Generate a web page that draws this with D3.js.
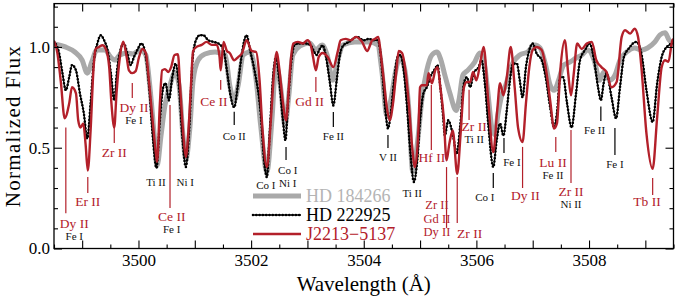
<!DOCTYPE html>
<html>
<head>
<meta charset="utf-8">
<style>
  body { margin: 0; background: #fff; }
  #chart text { font-family: "Liberation Serif", "DejaVu Serif", serif; }
</style>
</head>
<body>
<svg id="chart" width="678" height="302" font-family="Liberation Serif, DejaVu Serif, serif"></svg>
<script src="https://cdn.jsdelivr.net/npm/d3@7/dist/d3.min.js"></script>
<script>
  // HD 184266 (gray)
  var wlGray = [3498.50, 3498.70, 3498.87, 3499.00, 3499.09, 3499.17, 3499.26, 3499.41, 3499.49, 3499.58,
    3499.67, 3499.80, 3499.90, 3500.03, 3500.13, 3500.20, 3500.28, 3500.33, 3500.40, 3500.47,
    3500.56, 3500.65, 3500.72, 3500.79, 3500.84, 3500.91, 3500.97, 3501.06, 3501.18, 3501.36,
    3501.54, 3501.62, 3501.70, 3501.77, 3501.86, 3501.98, 3502.09, 3502.17, 3502.28, 3502.37,
    3502.44, 3502.53, 3502.60, 3502.67, 3502.74, 3502.87, 3503.04, 3503.15, 3503.26, 3503.35,
    3503.45, 3503.54, 3503.63, 3503.84, 3504.11, 3504.25, 3504.32, 3504.41, 3504.48, 3504.57,
    3504.64, 3504.73, 3504.80, 3504.87, 3504.96, 3505.03, 3505.12, 3505.21, 3505.30, 3505.37,
    3505.44, 3505.53, 3505.64, 3505.69, 3505.76, 3505.85, 3505.97, 3506.06, 3506.13, 3506.20,
    3506.28, 3506.33, 3506.38, 3506.45, 3506.52, 3506.63, 3506.77, 3506.91, 3507.04, 3507.13,
    3507.23, 3507.31, 3507.38, 3507.46, 3507.55, 3507.66, 3507.77, 3507.87, 3507.98, 3508.09,
    3508.19, 3508.26, 3508.37, 3508.46, 3508.55, 3508.67, 3508.81, 3508.93, 3509.04, 3509.17,
    3509.26, 3509.35, 3509.42, 3509.51];
  var fxGray = [1.015, 1.0, 0.975, 0.935, 0.87, 0.925, 0.985, 0.985, 0.955, 0.935,
    0.96, 0.97, 0.965, 0.985, 0.96, 0.81, 0.56, 0.41, 0.56, 0.71,
    0.81, 0.875, 0.81, 0.56, 0.44, 0.59, 0.835, 0.935, 0.965, 0.975,
    0.96, 0.81, 0.735, 0.81, 0.96, 0.975, 0.835, 0.61, 0.38, 0.64,
    0.91, 0.785, 0.61, 0.76, 0.96, 1.005, 1.02, 0.985, 1.01, 0.96,
    0.835, 0.935, 1.01, 1.025, 1.025, 1.01, 0.885, 0.66, 0.735, 0.885,
    0.95, 0.885, 0.69, 0.38, 0.54, 0.735, 0.885, 0.96, 0.975, 0.935,
    0.86, 0.77, 0.685, 0.735, 0.86, 0.885, 0.925, 0.97, 0.935, 0.785,
    0.59, 0.565, 0.66, 0.76, 0.81, 0.91, 0.96, 0.975, 1.01, 0.995,
    0.91, 0.81, 0.785, 0.835, 0.91, 0.925, 0.945, 0.96, 0.985, 0.935,
    0.835, 0.875, 0.835, 0.86, 0.935, 0.975, 0.995, 0.985, 0.995, 1.025,
    1.06, 1.07, 1.035, 1.01];

  // HD 222925 (black, dotted)
  var wlBlack = [3498.50, 3498.59, 3498.65, 3498.71, 3498.77, 3498.82, 3498.89, 3498.96, 3499.03, 3499.09,
    3499.15, 3499.21, 3499.27, 3499.33, 3499.39, 3499.45, 3499.51, 3499.57, 3499.62, 3499.68,
    3499.74, 3499.80, 3499.86, 3499.92, 3499.98, 3500.05, 3500.11, 3500.19, 3500.26, 3500.32,
    3500.38, 3500.44, 3500.48, 3500.54, 3500.60, 3500.66, 3500.72, 3500.78, 3500.84, 3500.90,
    3500.96, 3501.02, 3501.09, 3501.15, 3501.24, 3501.33, 3501.42, 3501.51, 3501.57, 3501.64,
    3501.70, 3501.76, 3501.82, 3501.88, 3501.92, 3501.98, 3502.06, 3502.17, 3502.23, 3502.28,
    3502.33, 3502.39, 3502.44, 3502.50, 3502.56, 3502.61, 3502.65, 3502.71, 3502.77, 3502.85,
    3502.97, 3503.06, 3503.12, 3503.16, 3503.22, 3503.27, 3503.33, 3503.40, 3503.46, 3503.52,
    3503.58, 3503.64, 3503.74, 3503.88, 3504.00, 3504.09, 3504.18, 3504.25, 3504.29, 3504.34,
    3504.39, 3504.43, 3504.48, 3504.54, 3504.60, 3504.65, 3504.71, 3504.77, 3504.83, 3504.89,
    3504.95, 3505.00, 3505.06, 3505.12, 3505.18, 3505.27, 3505.31, 3505.36, 3505.41, 3505.44,
    3505.50, 3505.59, 3505.65, 3505.71, 3505.78, 3505.83, 3505.89, 3505.95, 3506.04, 3506.09,
    3506.15, 3506.21, 3506.30, 3506.36, 3506.42, 3506.48, 3506.54, 3506.59, 3506.65, 3506.72,
    3506.77, 3506.82, 3506.88, 3506.94, 3507.00, 3507.07, 3507.16, 3507.23, 3507.31, 3507.38,
    3507.43, 3507.49, 3507.54, 3507.61, 3507.69, 3507.77, 3507.84, 3507.93, 3508.01, 3508.09,
    3508.16, 3508.21, 3508.26, 3508.31, 3508.40, 3508.48, 3508.55, 3508.62, 3508.70, 3508.84,
    3508.93, 3509.02, 3509.13, 3509.21, 3509.29, 3509.38, 3509.48, 3509.51];
  var fxBlack = [1.025, 0.97, 0.87, 0.785, 0.85, 0.91, 0.884, 0.77, 0.67, 0.545,
    0.72, 0.934, 1.017, 1.058, 1.033, 0.985, 0.87, 0.735, 0.884, 0.985,
    1.017, 0.97, 0.91, 0.95, 0.985, 1.017, 0.985, 0.80, 0.536, 0.40,
    0.636, 0.80, 0.82, 0.735, 0.85, 0.917, 0.80, 0.553, 0.404, 0.586,
    0.934, 1.033, 1.058, 1.058, 1.033, 1.025, 1.017, 0.985, 0.884, 0.75,
    0.70, 0.80, 0.934, 1.033, 1.058, 0.985, 0.884, 0.67, 0.437, 0.354,
    0.57, 0.85, 0.95, 0.835, 0.652, 0.536, 0.70, 0.917, 1.008, 1.017,
    1.017, 1.008, 0.975, 0.96, 0.99, 1.008, 0.95, 0.82, 0.71, 0.835,
    0.967, 1.008, 1.025, 1.05, 1.033, 1.04, 1.033, 1.033, 0.985, 0.835,
    0.67, 0.595, 0.67, 0.835, 0.95, 0.96, 0.884, 0.70, 0.47, 0.33,
    0.437, 0.636, 0.77, 0.80, 0.85, 0.893, 0.91, 0.80, 0.652, 0.56,
    0.636, 0.553, 0.47, 0.60, 0.82, 0.85, 0.80, 0.87, 0.90, 0.934,
    0.82, 0.62, 0.404, 0.536, 0.62, 0.56, 0.686, 0.82, 0.917, 0.917,
    0.835, 0.75, 0.90, 0.985, 1.017, 0.967, 0.934, 0.85, 0.70, 0.60,
    0.67, 0.85, 0.85, 0.72, 0.60, 0.77, 0.934, 0.985, 1.017, 0.934,
    0.80, 0.735, 0.82, 0.87, 0.75, 0.645, 0.80, 0.95, 0.99, 1.025,
    0.967, 0.785, 0.627, 0.82, 0.95, 1.0, 1.017, 1.02];

  // J2213-5137 (red)
  var wlRed = [3498.50, 3498.56, 3498.62, 3498.69, 3498.77, 3498.82, 3498.89, 3498.93, 3498.97, 3499.02,
    3499.06, 3499.10, 3499.15, 3499.20, 3499.24, 3499.30, 3499.36, 3499.42, 3499.48, 3499.52,
    3499.57, 3499.61, 3499.67, 3499.73, 3499.79, 3499.83, 3499.89, 3499.95, 3500.01, 3500.07,
    3500.13, 3500.19, 3500.25, 3500.31, 3500.33, 3500.38, 3500.42, 3500.47, 3500.53, 3500.58,
    3500.64, 3500.70, 3500.74, 3500.80, 3500.84, 3500.88, 3500.93, 3500.97, 3501.03, 3501.12,
    3501.21, 3501.30, 3501.39, 3501.44, 3501.46, 3501.51, 3501.57, 3501.62, 3501.70, 3501.77,
    3501.84, 3501.92, 3502.01, 3502.09, 3502.15, 3502.20, 3502.28, 3502.35, 3502.41, 3502.45,
    3502.51, 3502.56, 3502.62, 3502.67, 3502.71, 3502.75, 3502.83, 3502.92, 3503.00, 3503.06,
    3503.10, 3503.15, 3503.20, 3503.27, 3503.36, 3503.46, 3503.54, 3503.59, 3503.68, 3503.77,
    3503.86, 3503.97, 3504.06, 3504.15, 3504.20, 3504.26, 3504.30, 3504.35, 3504.41, 3504.46,
    3504.52, 3504.58, 3504.62, 3504.68, 3504.74, 3504.80, 3504.86, 3504.91, 3504.97, 3505.00,
    3505.03, 3505.12, 3505.15, 3505.21, 3505.27, 3505.31, 3505.36, 3505.42, 3505.47, 3505.52,
    3505.58, 3505.66, 3505.72, 3505.78, 3505.83, 3505.89, 3505.94, 3506.00, 3506.08, 3506.13,
    3506.21, 3506.30, 3506.37, 3506.42, 3506.48, 3506.54, 3506.61, 3506.68, 3506.74, 3506.82,
    3506.88, 3506.94, 3507.00, 3507.07, 3507.16, 3507.23, 3507.31, 3507.38, 3507.43, 3507.49,
    3507.57, 3507.63, 3507.68, 3507.73, 3507.79, 3507.87, 3507.96, 3508.05, 3508.13, 3508.22,
    3508.31, 3508.40, 3508.49, 3508.58, 3508.64, 3508.73, 3508.81, 3508.87, 3508.93, 3509.02,
    3509.13, 3509.21, 3509.29, 3509.35, 3509.41, 3509.48, 3509.51];
  var fxRed = [1.03, 0.97, 0.83, 0.646, 0.72, 0.80, 0.77, 0.636, 0.60, 0.62,
    0.52, 0.387, 0.586, 0.884, 0.99, 1.0, 1.008, 0.99, 0.90, 0.72,
    0.60, 0.77, 0.95, 1.026, 0.95, 0.884, 0.87, 0.88, 0.95, 0.99,
    0.97, 0.82, 0.64, 0.47, 0.43, 0.72, 0.884, 0.89, 0.876, 0.90,
    0.96, 0.964, 0.80, 0.553, 0.454, 0.553, 0.80, 0.98, 1.0, 1.01,
    1.025, 1.01, 1.01, 0.95, 0.884, 1.025, 0.98, 0.97, 0.934, 0.95,
    0.97, 1.033, 0.98, 0.975, 0.835, 0.60, 0.404, 0.636, 0.884, 0.975,
    0.87, 0.735, 0.636, 0.80, 0.95, 1.017, 1.025, 1.017, 1.033, 1.008,
    0.95, 0.884, 0.95, 0.97, 0.95, 0.90, 0.98, 1.033, 1.04, 1.033,
    1.05, 1.025, 0.98, 1.033, 1.04, 1.05, 0.97, 0.85, 0.70, 0.636,
    0.72, 0.884, 0.98, 0.97, 0.884, 0.72, 0.503, 0.404, 0.586, 0.80,
    0.81, 0.81, 0.87, 0.82, 0.884, 0.90, 0.80, 0.652, 0.437, 0.52,
    0.586, 0.37, 0.57, 0.80, 0.826, 0.826, 0.876, 0.835, 0.94, 1.0,
    0.735, 0.478, 0.686, 0.82, 0.76, 0.85, 1.0, 0.80, 0.60, 0.528,
    0.72, 0.90, 0.985, 1.0, 0.985, 0.90, 0.735, 0.595, 0.62, 0.884,
    1.033, 0.87, 0.76, 0.87, 1.017, 0.99, 1.017, 1.025, 0.934, 0.90,
    0.876, 0.80, 0.826, 1.05, 1.083, 1.066, 1.09, 1.05, 0.90, 0.57,
    0.395, 0.652, 0.90, 0.934, 0.926, 1.033, 1.04];

  var seriesNames = ["HD 184266", "HD 222925", "J2213\u22125137"];

  // line identifications: marker wavelength, marker span (flux), label anchor (wavelength, flux)
  var lineIds = [
    { lam: 3498.71, top: 0.60, bot: 0.175, tx: 3498.86, ty: 0.127, red: ["Dy II"], blk: ["Fe I"] },
    { lam: 3499.10, top: 0.355, bot: 0.275, tx: 3499.10, ty: 0.232, red: ["Er II"], blk: [] },
    { lam: 3499.57, top: 0.603, bot: 0.524, tx: 3499.57, ty: 0.475, red: ["Zr II"], blk: [] },
    { lam: 3499.89, top: 0.821, bot: 0.747, tx: 3499.92, ty: 0.702, red: ["Dy II"], blk: ["Fe I"] },
    { lam: null, tx: 3500.31, ty: 0.327, red: [], blk: ["Ti II"] },
    { lam: null, tx: 3500.83, ty: 0.327, red: [], blk: ["Ni I"] },
    { lam: 3500.56, top: 0.712, bot: 0.201, tx: 3500.59, ty: 0.161, red: ["Ce II"], blk: ["Fe I"] },
    { lam: 3501.46, top: 0.836, bot: 0.787, tx: 3501.34, ty: 0.729, red: ["Ce II"], blk: [] },
    { lam: 3501.70, top: 0.679, bot: 0.613, tx: 3501.70, ty: 0.555, red: [], blk: ["Co II"] },
    { lam: null, tx: 3502.26, ty: 0.315, red: [], blk: ["Co I"] },
    { lam: 3502.62, top: 0.504, bot: 0.439, tx: 3502.65, ty: 0.390, red: [], blk: ["Co I", "Ni I"] },
    { lam: 3503.15, top: 0.851, bot: 0.777, tx: 3503.04, ty: 0.732, red: ["Gd II"], blk: [] },
    { lam: 3503.46, top: 0.677, bot: 0.603, tx: 3503.46, ty: 0.555, red: [], blk: ["Fe II"] },
    { lam: 3504.43, top: 0.563, bot: 0.499, tx: 3504.43, ty: 0.454, red: [], blk: ["V II"] },
    { lam: null, tx: 3504.86, ty: 0.277, red: [], blk: ["Ti II"] },
    { lam: 3505.20, top: 0.811, bot: 0.489, tx: 3505.21, ty: 0.454, red: ["Hf II"], blk: [] },
    { lam: 3505.47, top: 0.404, bot: 0.102, tx: 3505.30, ty: 0.218, red: ["Zr II", "Gd II", "Dy II"], blk: [] },
    { lam: 3505.66, top: 0.355, bot: 0.127, tx: 3505.88, ty: 0.075, red: ["Zr II"], blk: [] },
    { lam: 3505.87, top: 0.787, bot: 0.638, tx: 3505.96, ty: 0.608, red: ["Zr II"], blk: ["Ti II"] },
    { lam: 3506.30, top: 0.375, bot: 0.30, tx: 3506.15, ty: 0.257, red: [], blk: ["Co I"] },
    { lam: 3506.49, top: 0.548, bot: 0.474, tx: 3506.63, ty: 0.426, red: [], blk: ["Fe I"] },
    { lam: 3506.82, top: 0.504, bot: 0.30, tx: 3506.87, ty: 0.266, red: ["Dy II"], blk: [] },
    { lam: 3507.41, top: 0.553, bot: 0.479, tx: 3507.36, ty: 0.428, red: ["Lu II"], blk: ["Fe II"] },
    { lam: 3507.68, top: 0.588, bot: 0.325, tx: 3507.68, ty: 0.285, red: ["Zr II"], blk: ["Ni II"] },
    { lam: 3508.21, top: 0.705, bot: 0.633, tx: 3508.10, ty: 0.588, red: [], blk: ["Fe II"] },
    { lam: 3508.46, top: 0.598, bot: 0.464, tx: 3508.46, ty: 0.419, red: [], blk: ["Fe I"] },
    { lam: 3509.13, top: 0.350, bot: 0.266, tx: 3509.03, ty: 0.236, red: ["Tb II"], blk: [] }
  ];

  var RED = "#b3202a", GRAY = "#a9a9a9", FONT = "Liberation Serif, DejaVu Serif, serif";
  var svg = d3.select("#chart");
  var L = 54, R = 673.5, T = 3.6, B = 248.5;
  var x = d3.scaleLinear().domain([3498.5, 3509.5]).range([L, R]);
  var y = d3.scaleLinear().domain([0, 1.215]).range([B, T]);

  svg.append("clipPath").attr("id", "clip")
    .append("rect").attr("x", L).attr("y", T).attr("width", R - L).attr("height", B - T);

  function series(wl, fx) {
    return wl.map(function(w, i) { return [w, fx[i]]; });
  }
  var line = d3.line()
    .x(function(d) { return x(d[0]); })
    .y(function(d) { return y(d[1]); })
    .curve(d3.curveMonotoneX);

  var plot = svg.append("g").attr("clip-path", "url(#clip)");
  plot.append("path").datum(series(wlGray, fxGray)).attr("d", line)
    .attr("fill", "none").attr("stroke", GRAY).attr("stroke-width", 5).attr("stroke-linejoin", "round");
  plot.append("path").datum(series(wlBlack, fxBlack)).attr("d", line)
    .attr("fill", "none").attr("stroke", "#000").attr("stroke-width", 1.3);
  plot.append("path").datum(series(wlBlack, fxBlack)).attr("d", line)
    .attr("fill", "none").attr("stroke", "#000").attr("stroke-width", 2.6)
    .attr("stroke-linecap", "round").attr("stroke-dasharray", "0 3.3");
  plot.append("path").datum(series(wlRed, fxRed)).attr("d", line)
    .attr("fill", "none").attr("stroke", RED).attr("stroke-width", 2.4).attr("stroke-linejoin", "round");

  // axes with inward ticks on all four sides
  function addAxis(axis, tx, ty) {
    var g = svg.append("g").attr("transform", "translate(" + tx + "," + ty + ")").call(axis)
      .attr("font-family", FONT);
    g.select(".domain").remove();
    g.selectAll("line").attr("stroke", "#000").attr("stroke-width", 1.1);
    g.selectAll("text").attr("font-size", 17).attr("fill", "#000");
    return g;
  }
  var xMajor = [3499, 3500, 3501, 3502, 3503, 3504, 3505, 3506, 3507, 3508, 3509];
  var xMinor = d3.range(3498.5, 3509.6, 0.5).filter(function(v) { return v % 1 !== 0; });
  var yMajor = [0, 0.5, 1.0];
  var yMinor = d3.range(0.1, 1.21, 0.1).filter(function(v) { return Math.abs(v - 0.5) > 0.01 && Math.abs(v - 1) > 0.01; });

  addAxis(d3.axisBottom(x).tickValues(xMajor).tickSize(-8).tickPadding(5)
    .tickFormat(function(d) { return d % 2 === 0 ? d3.format("d")(d) : ""; }), 0, B);
  addAxis(d3.axisBottom(x).tickValues(xMinor).tickSize(-4).tickFormat(""), 0, B);
  addAxis(d3.axisTop(x).tickValues(xMajor).tickSize(-8).tickFormat(""), 0, T);
  addAxis(d3.axisTop(x).tickValues(xMinor).tickSize(-4).tickFormat(""), 0, T);
  addAxis(d3.axisLeft(y).tickValues(yMajor).tickSize(-8).tickPadding(4).tickFormat(d3.format(".1f")), L, 0);
  addAxis(d3.axisLeft(y).tickValues(yMinor).tickSize(-4).tickFormat(""), L, 0);
  addAxis(d3.axisRight(y).tickValues(yMajor).tickSize(-8).tickFormat(""), R, 0);
  addAxis(d3.axisRight(y).tickValues(yMinor).tickSize(-4).tickFormat(""), R, 0);

  svg.append("rect").attr("x", L).attr("y", T).attr("width", R - L).attr("height", B - T)
    .attr("fill", "none").attr("stroke", "#000").attr("stroke-width", 1.3);

  // line identifications
  var ids = svg.append("g").attr("font-family", FONT);
  lineIds.forEach(function(d) {
    var col = d.red.length ? RED : "#000";
    if (d.lam !== null) {
      ids.append("line").attr("x1", x(d.lam)).attr("x2", x(d.lam))
        .attr("y1", y(d.top)).attr("y2", y(d.bot))
        .attr("stroke", col).attr("stroke-width", 1.2);
    }
    var cy = y(d.ty);
    var stacked = d.red.length > 1;
    d.red.forEach(function(t) {
      ids.append("text").attr("x", x(d.tx)).attr("y", cy).attr("dy", "0.35em")
        .attr("text-anchor", "middle").attr("font-size", stacked ? 12.5 : 13.5).attr("fill", RED).text(t);
      cy += stacked ? 13.6 : 12.8;
    });
    d.blk.forEach(function(t) {
      ids.append("text").attr("x", x(d.tx)).attr("y", cy).attr("dy", "0.35em")
        .attr("text-anchor", "middle").attr("font-size", 11).attr("fill", "#111").text(t);
      cy += 13;
    });
  });

  // legend
  var leg = svg.append("g").attr("transform", "translate(253,196)").attr("font-family", FONT);
  var legStyles = [
    { stroke: GRAY, width: 5, text: "#b4b4b4" },
    { stroke: "#000", width: 1.3, text: "#000", dots: true },
    { stroke: RED, width: 2.4, text: RED }
  ];
  seriesNames.forEach(function(name, i) {
    var s = legStyles[i], yy = i * 19;
    leg.append("line").attr("x1", 0).attr("x2", 48).attr("y1", yy).attr("y2", yy)
      .attr("stroke", s.stroke).attr("stroke-width", s.width);
    if (s.dots) {
      leg.append("line").attr("x1", 0).attr("x2", 48).attr("y1", yy).attr("y2", yy)
        .attr("stroke", "#000").attr("stroke-width", 2.6).attr("stroke-linecap", "round")
        .attr("stroke-dasharray", "0 3.3");
    }
    leg.append("text").attr("x", 53).attr("y", yy).attr("dy", "0.35em")
      .attr("font-size", 18).attr("fill", s.text).text(name);
  });

  // axis titles
  svg.append("text").attr("x", (L + R) / 2).attr("y", 291).attr("font-family", FONT)
    .attr("text-anchor", "middle").attr("font-size", 21).text("Wavelength (\u00c5)");
  svg.append("text").attr("transform", "translate(20," + ((T + B) / 2) + ") rotate(-90)")
    .attr("font-family", FONT).attr("letter-spacing", 1.3)
    .attr("text-anchor", "middle").attr("font-size", 21).text("Normalized Flux");
</script>
</body>
</html>
